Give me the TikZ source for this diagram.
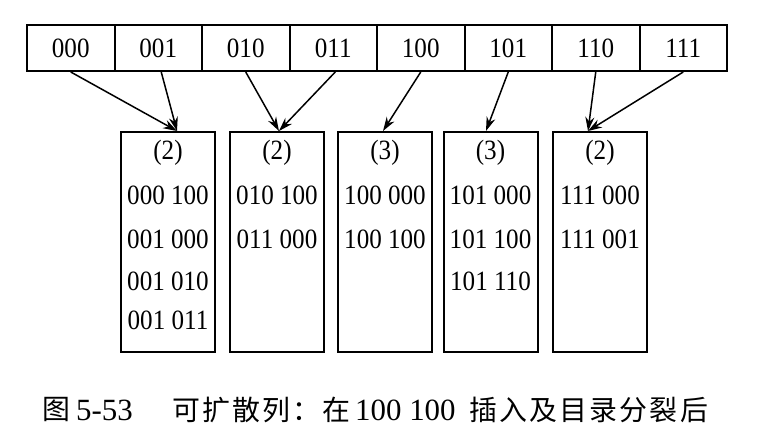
\documentclass[tikz,border=0pt]{standalone}
\usepackage{fontspec}
\setmainfont{Liberation Serif}
\newfontfamily\digitfont[FakeStretch=0.9]{Liberation Serif}
\newfontfamily\cjk[LetterSpace=8]{Noto Sans CJK SC}
\usetikzlibrary{arrows.meta,calc}
\begin{document}
\begin{tikzpicture}[x=1bp,y=-1bp,
  cell/.style={draw,line width=2bp,minimum width=87.5bp,minimum height=46bp,
    inner sep=0pt,font=\digitfont\fontsize{28}{28}\selectfont},
  bucket/.style={draw,line width=2bp,minimum width=94bp,minimum height=220bp,inner sep=0pt},
  entry/.style={inner sep=0pt,font=\digitfont\fontsize{28}{28}\selectfont},
  ptr/.style={line width=1.5bp,-{Stealth[length=14bp,width=9bp]}},
  capcjk/.style={inner sep=0pt,anchor=west,font=\cjk\fontsize{28}{28}\selectfont},
  capnum/.style={inner sep=0pt,anchor=west,font=\fontsize{31}{31}\selectfont}]
\useasboundingbox (0,0) rectangle (759,437);

% directory
\foreach \lab [count=\i from 0] in {000,001,010,011,100,101,110,111}
  \node[cell] (d\lab) at ({27+43.75+87.5*\i},48) {\lab};

% buckets
\node[bucket] (b1) at (168,242) {};
\node[bucket] (b2) at (277,242) {};
\node[bucket] (b3) at (385,242) {};
\node[bucket] (b4) at (490.5,242) {};
\node[bucket] (b5) at (600,242) {};

% bucket contents
\node[entry] (b1h) at (168,153) {(2)};
\node[entry] (b1r1) at (168,195) {000 100};
\node[entry] (b1r2) at (168,239) {001 000};
\node[entry] (b1r3) at (168,281) {001 010};
\node[entry] (b1r4) at (168,320) {001 011};

\node[entry] (b2h) at (277,153) {(2)};
\node[entry] (b2r1) at (277,195) {010 100};
\node[entry] (b2r2) at (277,239) {011 000};

\node[entry] (b3h) at (385,153) {(3)};
\node[entry] (b3r1) at (385,195) {100 000};
\node[entry] (b3r2) at (385,239) {100 100};

\node[entry] (b4h) at (490.5,153) {(3)};
\node[entry] (b4r1) at (490.5,195) {101 000};
\node[entry] (b4r2) at (490.5,239) {101 100};
\node[entry] (b4r3) at (490.5,281) {101 110};

\node[entry] (b5h) at (600,153) {(2)};
\node[entry] (b5r1) at (600,195) {111 000};
\node[entry] (b5r2) at (600,239) {111 001};

% arrow targets on bucket tops
\coordinate (t1) at ($(b1.north)+(9,0)$);
\coordinate (t2) at ($(b2.north)+(2,0)$);
\coordinate (t3) at ($(b3.north)+(-2,0)$);
\coordinate (t4) at ($(b4.north)+(-4.5,0)$);
\coordinate (t5) at ($(b5.north)+(-12,0)$);

% directory pointers
\draw[ptr] (d000.south) -- (t1);
\draw[ptr] ($(d001.south)+(3,0)$) -- (t1);
\draw[ptr] (d010.south) -- (t2);
\draw[ptr] ($(d011.south)+(2,0)$) -- (t2);
\draw[ptr] (d100.south) -- (t3);
\draw[ptr] (d101.south) -- (t4);
\draw[ptr] (d110.south) -- (t5);
\draw[ptr] (d111.south) -- (t5);

% caption
\node[capcjk] (cap1) at (42,410) {图};
\node[capnum] (cap2) at (76,410) {5-53};
\node[capcjk] (cap3) at (172,410) {可扩散列：在};
\node[capnum] (cap4) at (355,410) {100 100};
\node[capcjk] (cap5) at (469,410) {插入及目录分裂后};
\end{tikzpicture}
\end{document}
